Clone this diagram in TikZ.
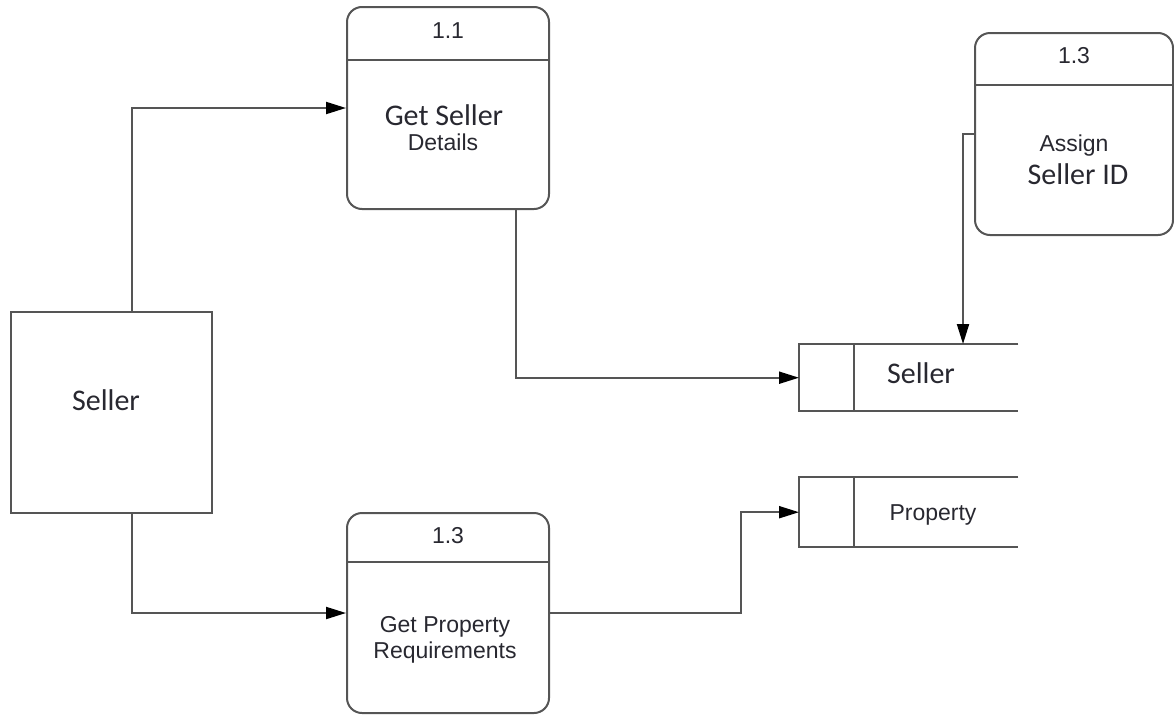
\documentclass[tikz,border=0pt]{standalone}
\usepackage{fontspec}
\setmainfont{Liberation Sans}
\newfontfamily\calib{Carlito}
\usetikzlibrary{arrows.meta}
\definecolor{edge}{RGB}{85,85,85}
\definecolor{ink}{RGB}{40,40,48}
\tikzset{
  procbox/.style={draw=edge, line width=2pt, rounded corners=15pt, inner sep=0pt},
  entbox/.style={draw=edge, line width=2pt, inner sep=0pt},
  storebox/.style={inner sep=0pt, anchor=north west, minimum width=219pt, minimum height=67pt},
  wire/.style={draw=edge, line width=2pt},
  flow/.style={wire, -{Triangle[length=20pt,width=12pt,fill=black,color=black]}},
  arial/.style={text=ink, font=\fontsize{23}{27}\selectfont, inner sep=0pt},
  calibri/.style={text=ink, font=\calib\fontsize{30}{34}\selectfont, inner sep=0pt}
}
\begin{document}
\begin{tikzpicture}[x=1pt, y=-1pt]
\useasboundingbox (0,0) rectangle (1174,715);

% external entity
\node[entbox, minimum width=201pt, minimum height=201pt] (ent) at (111.5,412.5) {};
\node[calibri, anchor=base] (entlbl) at (106,410) {Seller};

% process 1.1
\node[procbox, minimum width=202pt, minimum height=202pt] (p11) at (448,108) {};
\draw[wire] (p11.west |- 0,60) -- (p11.east |- 0,60);
\node[arial] (p11n) at (448,31) {1.1};
\node[calibri, anchor=base] (p11a) at (444,125) {Get Seller};
\node[arial, anchor=base] (p11b) at (443,150) {Details};

% process 1.3 (assign id)
\node[procbox, minimum width=198pt, minimum height=202pt] (p13b) at (1074,134) {};
\draw[wire] (p13b.west |- 0,85) -- (p13b.east |- 0,85);
\node[arial] (p13bn) at (1074,56) {1.3};
\node[arial, anchor=base] (p13ba) at (1074,151) {Assign};
\node[calibri, anchor=base] (p13bb) at (1078,184) {Seller ID};

% process 1.3 (property requirements)
\node[procbox, minimum width=202pt, minimum height=200pt] (p13) at (448,613) {};
\draw[wire] (p13.west |- 0,562) -- (p13.east |- 0,562);
\node[arial] (p13n) at (448,536) {1.3};
\node[arial, anchor=base] (p13a) at (445,632) {Get Property};
\node[arial, anchor=base] (p13c) at (445,658) {Requirements};

% data stores, open on the right
\node[storebox] (ss) at (799,344) {};
\draw[wire] (ss.north east) -- (ss.north west) -- (ss.south west) -- (ss.south east);
\draw[wire] ([xshift=55pt]ss.north west) -- ([xshift=55pt]ss.south west);
\node[calibri, anchor=base] (sslbl) at (921,383) {Seller};

\node[storebox, minimum height=70pt] (ps) at (799,477) {};
\draw[wire] (ps.north east) -- (ps.north west) -- (ps.south west) -- (ps.south east);
\draw[wire] ([xshift=55pt]ps.north west) -- ([xshift=55pt]ps.south west);
\node[arial, anchor=base] (pslbl) at (933,520) {Property};

% data flows
\draw[flow] ([xshift=20pt]ent.north) |- (p11.west);
\draw[flow] ([xshift=20pt]ent.south) |- (p13.west);
\draw[flow] ([xshift=68pt]p11.south) |- (ss.west);
\draw[flow] (p13.east) -- ++(191,0) |- (ps.west);
\draw[flow] (p13b.west) -| ([xshift=164pt]ss.north west);
\end{tikzpicture}
\end{document}
